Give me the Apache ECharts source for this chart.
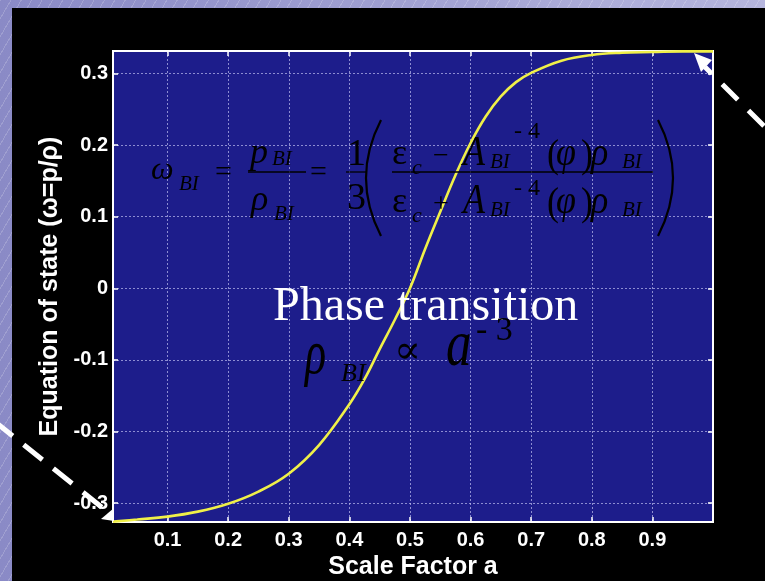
<!DOCTYPE html>
<html>
<head>
<meta charset="utf-8">
<script src="https://cdn.jsdelivr.net/npm/echarts@6/dist/echarts.min.js"></script>
<style>
html,body{margin:0;padding:0;width:765px;height:581px;overflow:hidden;}
body{background:
  repeating-linear-gradient(120deg, rgba(255,255,255,0.18) 0 1px, rgba(255,255,255,0) 1px 9px),
  linear-gradient(90deg,#8a8ac6,#b6b6de);}
#blk{position:absolute;left:12px;top:8px;right:0;bottom:0;background:#000;}
#chart{position:absolute;left:0;top:0;width:765px;height:581px;}
</style>
</head>
<body>
<div id="blk"></div>
<div id="chart"></div>
<script>
// ---- data ----
const scaleFactor = [0.01, 0.05, 0.1, 0.15, 0.2, 0.25, 0.3, 0.35, 0.4, 0.425, 0.45, 0.475, 0.5, 0.525, 0.55, 0.575, 0.6, 0.625, 0.65, 0.675, 0.7, 0.75, 0.8, 0.85, 0.9, 0.95, 1.0];
const eqOfState   = [-0.326, -0.323, -0.319, -0.312, -0.301, -0.284, -0.259, -0.219, -0.162, -0.127, -0.085, -0.044, 0.0, 0.055, 0.107, 0.158, 0.203, 0.240, 0.268, 0.288, 0.301, 0.318, 0.326, 0.329, 0.330, 0.331, 0.331];
const xTickLabels = ['0.1','0.2','0.3','0.4','0.5','0.6','0.7','0.8','0.9'];
const yTickLabels = ['-0.3','-0.2','-0.1','0','0.1','0.2','0.3'];
const xTitle = 'Scale Factor a';
const yTitle = 'Equation of state (\u03c9=p/\u03c1)';
const phaseText = 'Phase transition';

const xTicks = xTickLabels.map(Number);
const yTicks = yTickLabels.map(Number);

const chart = echarts.init(document.getElementById('chart'), null, {renderer:'canvas'});

const sansFont = '"Liberation Sans",Arial,sans-serif';
const serif = '"Liberation Serif","DejaVu Serif",serif';

function txt(str, x, baseline, size, italic, color, sy) {
  const el = {
    type: 'text', z: 50,
    style: {
      text: str, x: x, y: baseline - 0.34 * size,
      font: (italic ? 'italic ' : '') + size + 'px ' + serif,
      fill: color || '#000', textVerticalAlign: 'middle', textAlign: 'left'
    }
  };
  if (sy) { el.scaleY = sy; el.originX = x; el.originY = baseline; }
  return el;
}
function hline(x1, x2, y) {
  return {type:'line', z:50, shape:{x1:x1,y1:y,x2:x2,y2:y}, style:{stroke:'#000', lineWidth:1.3}};
}
function paren(xEnd, xMid, y1, y2) {
  const ym = (y1 + y2) / 2;
  return {type:'bezierCurve', z:50,
    shape:{x1:xEnd, y1:y1, cpx1:2*xMid - xEnd, cpy1:ym, x2:xEnd, y2:y2},
    style:{stroke:'#000', lineWidth:2.2, fill:null}};
}

const g = [];
// omega_BI = p_BI / rho_BI = 1/3 ( ... / ... )
g.push(txt('\u03c9', 151, 181, 32, true));
g.push(txt('BI', 179, 192, 21, true));
g.push(txt('=', 215, 183, 30, false));
g.push(txt('p', 250, 166, 36, true));
g.push(txt('BI', 272, 167, 21, true));
g.push(hline(248, 306, 172));
g.push(txt('\u03c1', 251, 213, 36, true));
g.push(txt('BI', 274, 222, 21, true));
g.push(txt('=', 310, 183, 30, false));
g.push(txt('1', 347, 168, 38, false));
g.push(hline(346, 366, 172));
g.push(txt('3', 347, 212, 38, false));
g.push(paren(381, 366, 120, 236));
g.push(paren(658, 673, 120, 236));
[[167, '\u2212', 0], [215, '+', 9]].forEach(function(p){
  const b = p[0], sup = p[2];
  g.push(txt('\u03b5', 392, b, 36, false));
  g.push(txt('c', 412, b + 9, 22, true));
  g.push(txt(p[1], 433, b - 1, 28, false));
  g.push(txt('A', 463, b + 1, 36, true, null, 1.15));
  g.push(txt('BI', 490, b + 3, 21, true));
  g.push(txt('- 4', 514, b - 27 + sup, 24, false));
  g.push(txt('(', 547, b + 3, 36, false, null, 1.12));
  g.push(txt('\u03c6', 556, b + 1, 36, true, null, 1.12));
  g.push(txt(')', 581, b + 3, 36, false, null, 1.12));
  g.push(txt('\u03c1', 591, b + 1, 36, true, null, 1.12));
  g.push(txt('BI', 622, b + 3, 21, true));
});
g.push(hline(392, 653, 172));
// Phase transition
g.push(txt(phaseText, 273, 324, 48, false, '#fff'));
// rho_BI ∝ a^-3
g.push(txt('\u03c1', 305, 378, 44, true, null, 1.45));
g.push(txt('BI', 341, 383, 26, true));
g.push(txt('\u221d', 394, 366, 40, false));
g.push(txt('a', 446, 370, 51, true, null, 1.27));
g.push(txt('- 3', 476, 343, 34, false));

// dashed arrows
g.push({type:'line', z:60, shape:{x1:-6,y1:421,x2:102,y2:507.4}, style:{stroke:'#fff', lineWidth:5, lineDash:[24,14]}});
g.push({type:'polygon', z:60, shape:{points:[[101,519],[114,508],[114,521]]}, style:{fill:'#fff'}});
g.push({type:'line', z:60, shape:{x1:764,y1:126,x2:705,y2:67}, style:{stroke:'#fff', lineWidth:5, lineDash:[22,15]}});
g.push({type:'polygon', z:60, shape:{points:[[694,53],[712,60],[701,72]]}, style:{fill:'#fff'}});

const xMin = 0.01, xMax = 1.0, yMin = -0.3265, yMax = 0.3315;

const tickStyle = {show:true, inside:true, length:5, lineStyle:{color:'#fff', width:1.5}};
const gridLine = {show:true, lineStyle:{color:'rgba(190,190,240,0.7)', type:[2,2], width:1}};
const axisLineStyle = {show:true, onZero:false, lineStyle:{color:'#fff', width:2}};

chart.setOption({
  backgroundColor: 'transparent',
  animation: false,
  grid: {left:113, top:51, width:600, height:471, containLabel:false, outerBoundsMode:'none',
    show:true, backgroundColor:'#1d1d8b', borderColor:'#fff', borderWidth:2},
  xAxis: [{
    type:'value', min:xMin, max:xMax, position:'bottom',
    axisLine:axisLineStyle,
    axisTick:Object.assign({customValues:xTicks}, tickStyle),
    axisLabel:{customValues:xTicks, color:'#fff', fontFamily:sansFont, fontWeight:'bold', fontSize:20, margin:8,
      formatter:function(v){ const i = xTicks.indexOf(v); return i >= 0 ? xTickLabels[i] : ''; }},
    splitLine:gridLine,
    name:xTitle, nameLocation:'middle', nameGap:27,
    nameTextStyle:{color:'#fff', fontFamily:sansFont, fontWeight:'bold', fontSize:25}
  },{
    type:'value', min:xMin, max:xMax, position:'top',
    axisLine:axisLineStyle,
    axisTick:Object.assign({customValues:xTicks}, tickStyle),
    axisLabel:{show:false}, splitLine:{show:false}
  }],
  yAxis: [{
    type:'value', min:yMin, max:yMax, position:'left',
    axisLine:axisLineStyle,
    axisTick:Object.assign({customValues:yTicks}, tickStyle),
    axisLabel:{customValues:yTicks, color:'#fff', fontFamily:sansFont, fontWeight:'bold', fontSize:20, margin:5,
      formatter:function(v){ const i = yTicks.indexOf(v); return i >= 0 ? yTickLabels[i] : ''; }},
    splitLine:gridLine,
    name:yTitle, nameLocation:'middle', nameGap:45, nameRotate:90,
    nameTextStyle:{color:'#fff', fontFamily:sansFont, fontWeight:'bold', fontSize:25}
  },{
    type:'value', min:yMin, max:yMax, position:'right',
    axisLine:axisLineStyle,
    axisTick:Object.assign({customValues:yTicks}, tickStyle),
    axisLabel:{show:false}, splitLine:{show:false}
  }],
  series: [{
    type:'line', xAxisIndex:0, yAxisIndex:0,
    data: scaleFactor.map(function(a, i){ return [a, eqOfState[i]]; }),
    smooth: 0.4, showSymbol:false, symbol:'none',
    lineStyle:{color:'#f0f048', width:2.6},
    z: 10
  }],
  graphic: g
});
</script>
</body>
</html>
